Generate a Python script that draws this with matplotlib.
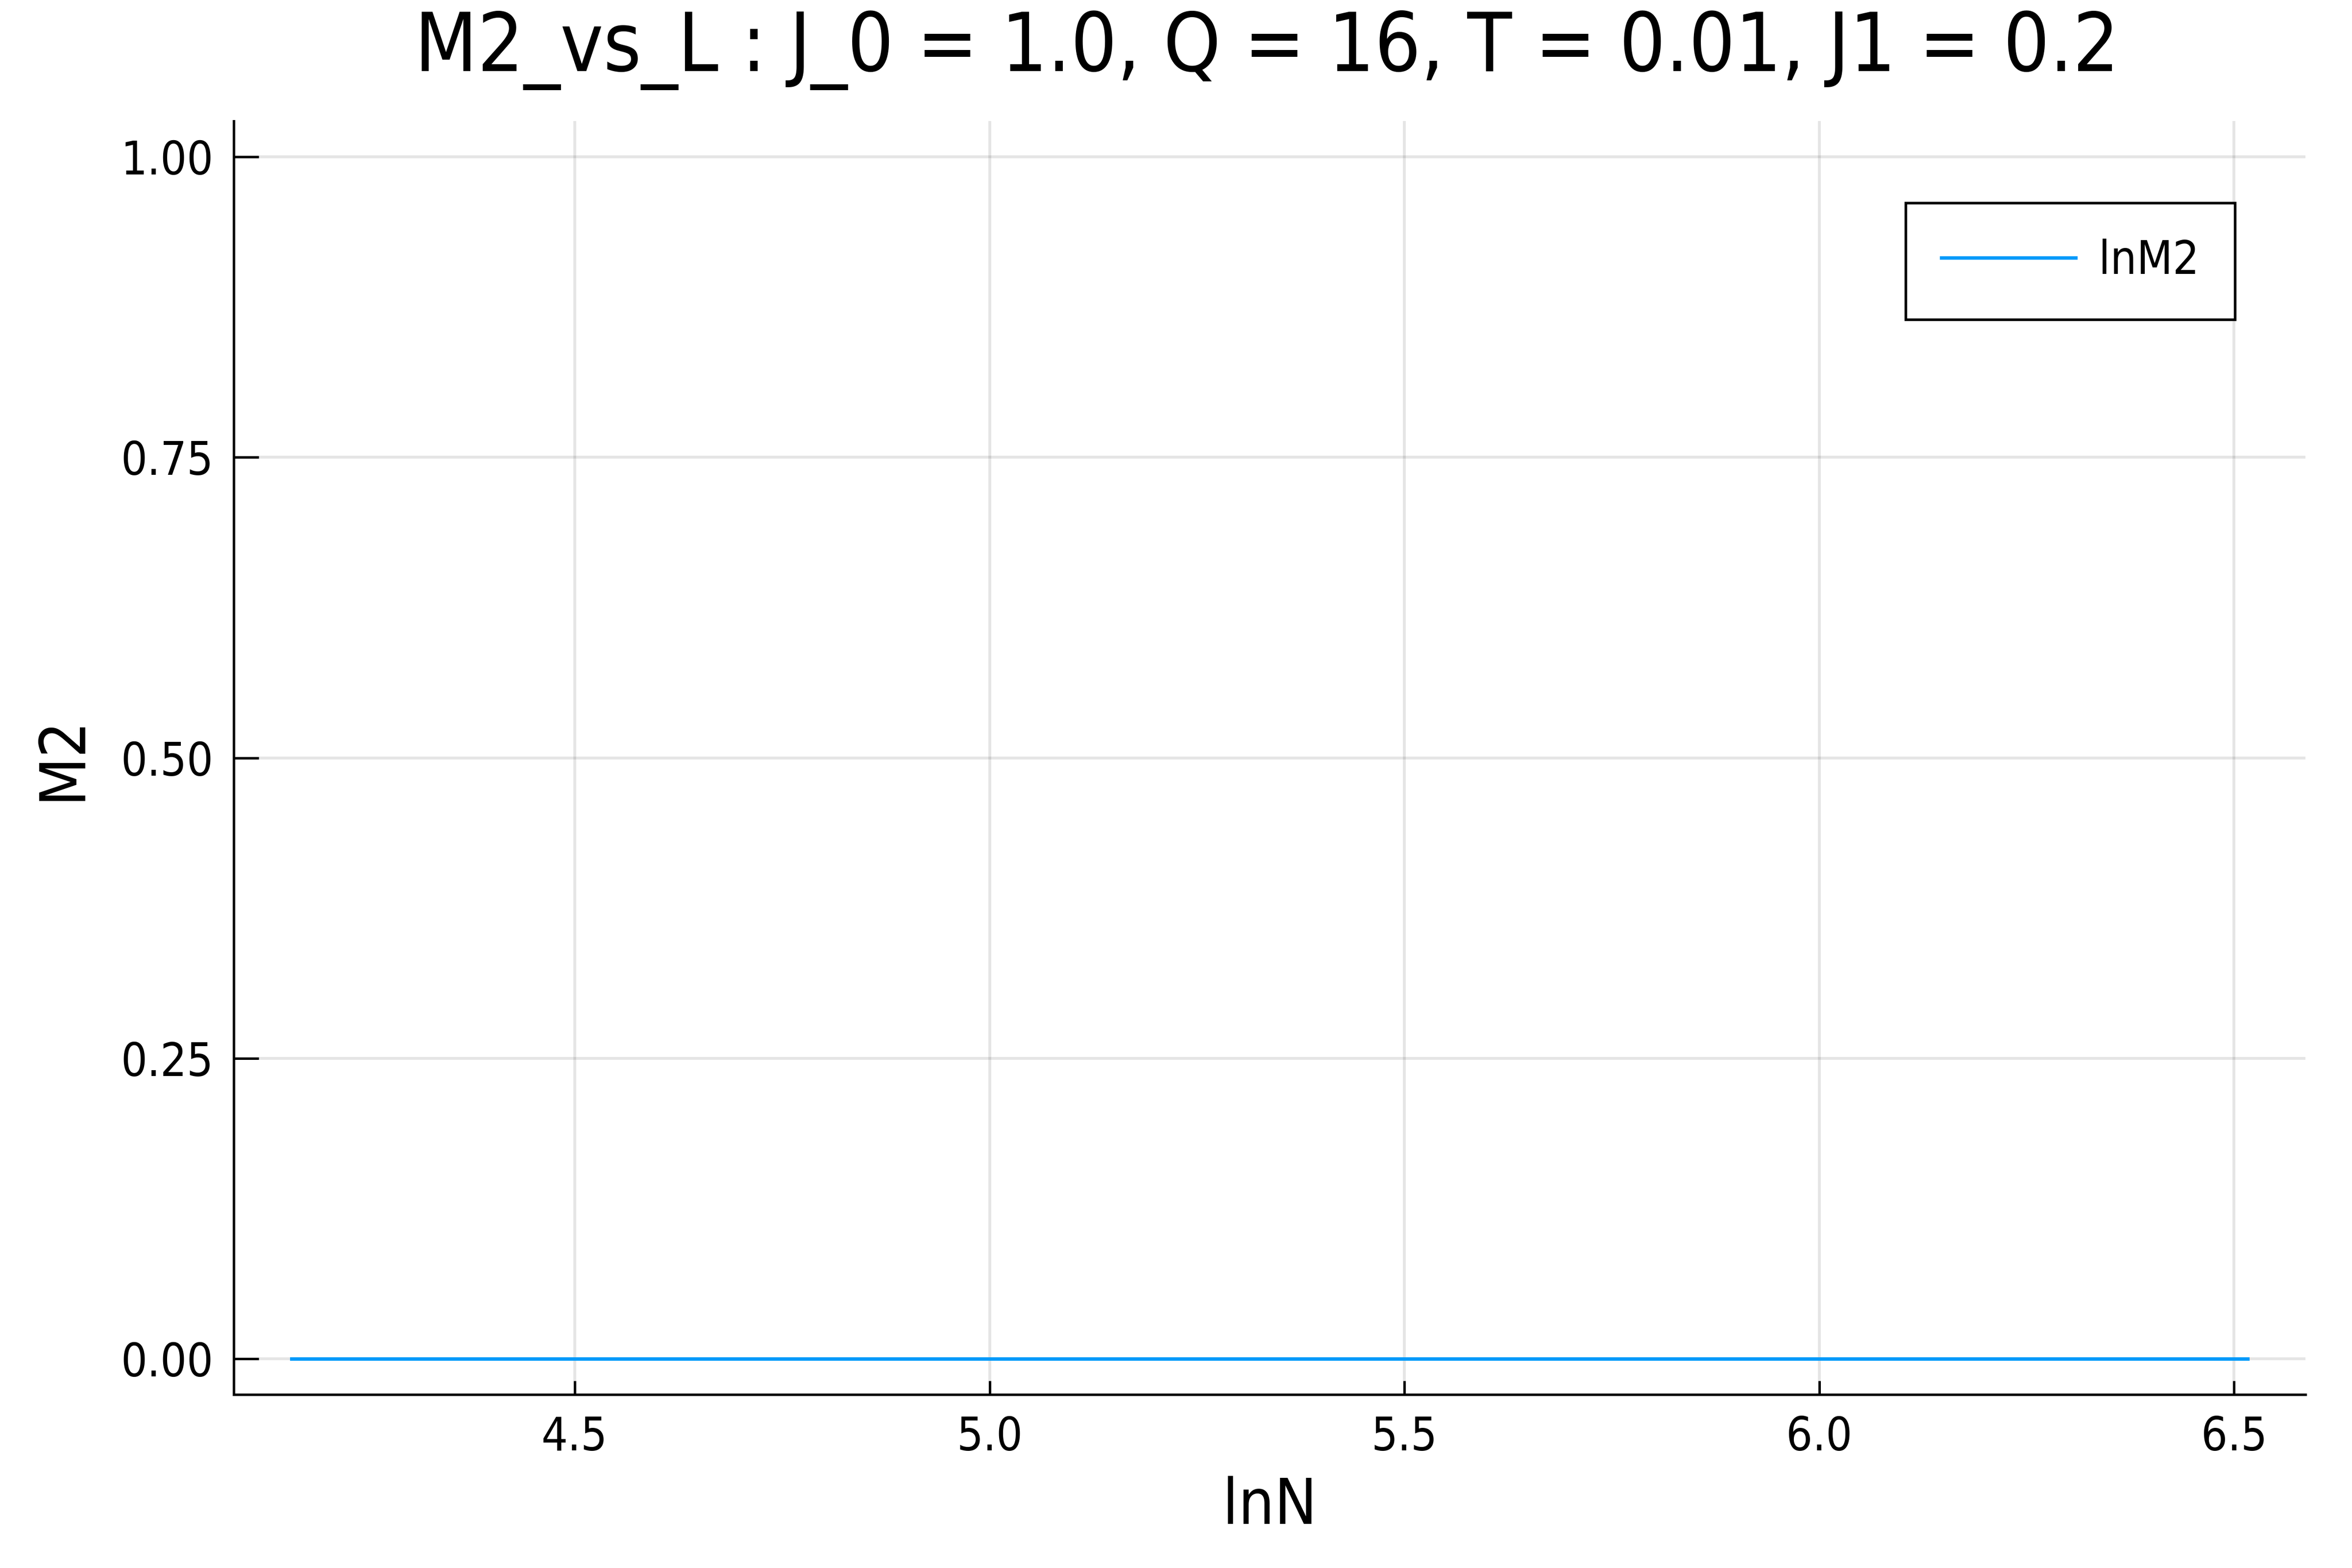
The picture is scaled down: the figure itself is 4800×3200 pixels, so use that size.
import numpy as np
import matplotlib
matplotlib.use("Agg")
import matplotlib.pyplot as plt
from matplotlib.ticker import FormatStrFormatter

# data: system sizes N = L^2 and measured M2 (all zero)
N = [64, 100, 144, 196, 256, 324, 400, 484, 576, 676]
M2 = [0.0, 0.0, 0.0, 0.0, 0.0, 0.0, 0.0, 0.0, 0.0, 0.0]
xticks = [4.5, 5.0, 5.5, 6.0, 6.5]
yticks = [0.0, 0.25, 0.5, 0.75, 1.0]
title = "M2_vs_L : J_0 = 1.0, Q = 16, T = 0.01, J1 = 0.2"

lnN = np.log(N)

plt.rcParams['font.family'] = ['DejaVu Sans']
plt.rcParams['font.stretch'] = 'condensed'

W, H = 4800, 3200
fig = plt.figure(figsize=(16, 32 / 3), dpi=300)
# axes box in pixels: left 477, right 4705, top 247, bottom 2846
ax = fig.add_axes([477 / W, 1 - 2846 / H, (4705 - 477) / W, (2846 - 247) / H])

ax.plot(lnN, M2, color='#009AFA', lw=1.7, label='lnM2', zorder=3)

ax.set_xlim(4.089, 6.586)
ax.set_ylim(-0.0298, 1.0298)
ax.set_xticks(xticks)
ax.set_yticks(yticks)
ax.yaxis.set_major_formatter(FormatStrFormatter('%.2f'))
ax.xaxis.set_major_formatter(FormatStrFormatter('%.1f'))

ax.grid(True, color='black', alpha=0.1, lw=1.4)
ax.set_axisbelow(True)

for s in ['top', 'right']:
    ax.spines[s].set_visible(False)
for s in ['left', 'bottom']:
    ax.spines[s].set_linewidth(1.2)

ax.tick_params(axis='x', direction='in', length=6.7, width=1.2, pad=10, labelsize=22.7)
ax.tick_params(axis='y', direction='in', length=12.2, width=1.2, pad=10, labelsize=22.7)

ax.set_xlabel('lnN', fontsize=31)
ax.set_ylabel('M2', fontsize=31)
ax.xaxis.set_label_coords(0.5, -(3110 - 2846) / (2846 - 247), transform=ax.transAxes)
ax.xaxis.label.set_va('baseline')
ax.yaxis.set_label_coords(-(477 - 128) / (4705 - 477), 0.5, transform=ax.transAxes)
ax.yaxis.label.set_va('center')

fig.text(2585 / W, 1 - 145 / H, title, fontsize=39.7, ha='center', va='baseline')

leg = ax.legend(loc='upper right', bbox_to_anchor=(0.966, 0.9357), borderaxespad=0,
                fontsize=22.7, fancybox=False, framealpha=1, edgecolor='black',
                handlelength=2.9, handletextpad=0.5, borderpad=0.77)
leg.get_frame().set_linewidth(1.3)

fig.savefig('out.png', dpi=300, facecolor='white')
